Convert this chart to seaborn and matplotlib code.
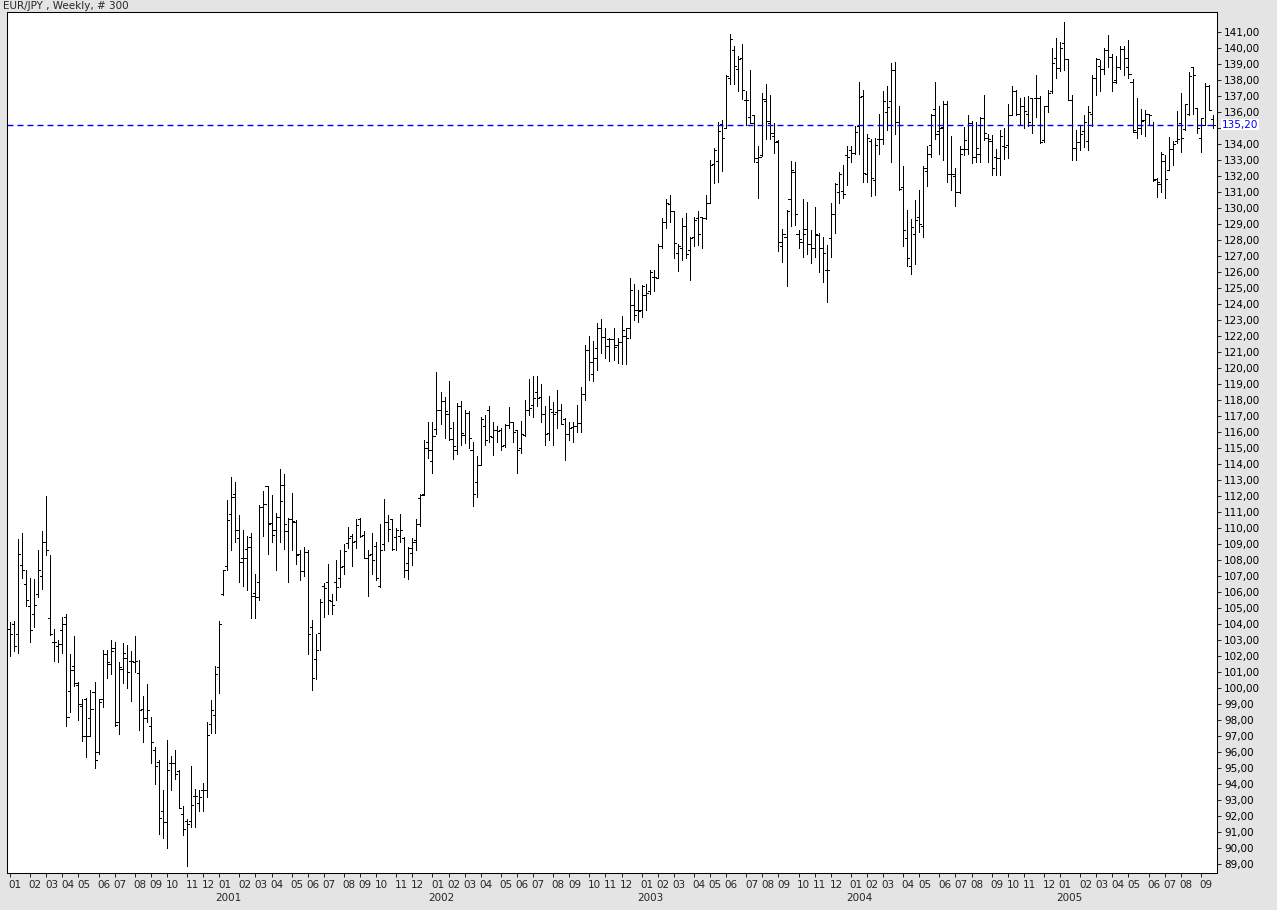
import numpy as np
import pandas as pd
import matplotlib
matplotlib.use("Agg")
import matplotlib.pyplot as plt
import matplotlib.transforms as mtransforms
import seaborn as sns

# === Weekly EUR/JPY OHLC, 300 bars from Jan 2000 ===
opens = [
    103.7, 104.0, 103.4, 107.7, 106.5, 105.1, 104.6, 105.9, 107.0, 109.1,
    104.4, 102.9, 102.6, 103.6, 104.45, 99.8, 101.4, 100.2, 98.9, 99.3,
    98.1, 99.75, 96.0, 99.3, 102.1, 101.5, 102.5, 97.85, 101.2, 101.9,
    101.7, 101.6, 100.95, 98.7, 98.1, 97.6, 96.1, 95.35, 92.3, 91.6,
    95.3, 95.3, 94.8, 92.1, 91.7, 91.7, 93.25, 92.8, 93.6, 93.6,
    97.75, 98.3, 101.3, 105.9, 107.6, 110.9, 112.1, 109.35, 108.15, 108.7,
    109.45, 105.95, 106.65, 111.3, 112.6, 110.3, 109.9, 110.7, 112.7, 109.8,
    110.55, 110.4, 108.4, 107.3, 108.5, 103.8, 101.8, 103.45, 106.4, 106.65,
    105.45, 106.6, 106.9, 107.6, 109.05, 109.5, 109.2, 110.55, 109.55, 108.1,
    108.4, 108.9, 106.4, 109.0, 110.35, 110.55, 109.45, 109.5, 109.35, 107.8,
    108.45, 109.25, 111.9, 112.1, 115.35, 114.2, 116.2, 117.35, 117.95, 117.15,
    115.55, 114.9, 117.6, 115.8, 117.2, 114.9, 112.85, 113.95, 116.4, 117.4,
    115.7, 116.1, 116.1, 115.2, 116.45, 116.6, 116.1, 115.0, 115.8, 117.4,
    117.7, 118.5, 118.2, 117.1, 115.95, 117.25, 117.25, 117.35, 116.8, 115.9,
    116.3, 116.4, 116.55, 118.4, 121.1, 119.65, 121.25, 122.5, 121.95, 121.8,
    121.8, 121.45, 121.65, 122.0, 122.5, 123.95, 123.6, 123.6, 124.55, 124.8,
    125.7, 125.65, 127.6, 129.1, 130.25, 129.8, 127.2, 127.5, 128.9, 127.4,
    128.2, 129.35, 129.45, 129.4, 130.3, 132.75, 132.95, 135.25, 135.0, 138.15,
    139.9, 138.7, 139.4, 136.75, 135.7, 135.8, 132.9, 133.3, 136.7, 135.3,
    134.5, 134.2, 127.6, 128.2, 130.55, 132.25, 128.4, 127.9, 128.7, 127.75,
    127.5, 128.3, 127.5, 126.1, 128.1, 129.6, 131.0, 131.05, 133.3, 133.6,
    133.45, 135.1, 137.0, 132.1, 134.2, 131.75, 134.3, 134.3, 136.0, 136.7,
    138.6, 135.4, 131.3, 128.1, 126.35, 128.4, 129.45, 128.9, 132.3, 133.95,
    136.2, 134.8, 135.05, 136.5, 132.1, 132.0, 131.0, 133.7, 133.7, 135.3,
    133.2, 133.4, 135.6, 134.4, 134.2, 133.2, 133.1, 133.9, 133.95, 135.8,
    137.3, 135.9, 136.4, 135.85, 136.85, 136.9, 136.9, 134.25, 136.4, 137.3,
    139.4, 138.75, 140.3, 139.3, 136.75, 133.75, 134.15, 134.8, 134.2, 135.9,
    138.15, 138.9, 138.7, 139.9, 139.45, 138.0, 138.8, 139.95, 138.8, 137.9,
    134.75, 135.0, 135.5, 135.85, 135.2, 131.8, 131.5, 132.95, 132.4, 133.7,
    134.2, 135.3, 134.95, 135.9, 138.8, 136.25, 134.4, 135.2, 137.6, 135.55,
]
highs = [
    104.1, 104.2, 109.3, 109.7, 107.4, 106.85, 106.8, 108.6, 109.8, 112.0,
    108.3, 103.7, 103.0, 104.45, 104.6, 102.1, 103.25, 100.4, 99.3, 99.35,
    99.9, 100.4, 99.3, 102.4, 102.4, 103.0, 102.85, 101.6, 102.8, 102.7,
    102.3, 103.25, 101.75, 99.5, 100.25, 98.2, 96.3, 95.5, 93.6, 96.75,
    95.75, 96.1, 94.9, 92.6, 91.8, 95.1, 93.7, 93.6, 94.05, 97.9,
    99.25, 101.4, 104.2, 107.4, 111.75, 113.2, 112.9, 110.8, 109.9, 109.5,
    109.7, 107.1, 111.45, 112.3, 112.6, 112.05, 110.95, 113.7, 113.4, 110.6,
    112.2, 110.5, 108.6, 108.8, 108.6, 104.25, 103.4, 105.55, 106.55, 107.75,
    105.9, 108.0, 108.6, 109.0, 110.05, 109.65, 110.55, 110.6, 109.8, 108.65,
    109.7, 109.1, 110.25, 111.8, 110.8, 110.55, 110.0, 110.9, 109.45, 108.8,
    109.4, 110.55, 112.1, 115.5, 116.65, 116.6, 119.75, 118.5, 118.2, 119.2,
    116.65, 117.8, 117.95, 117.4, 117.3, 115.4, 114.5, 116.95, 117.05, 117.6,
    116.6, 116.35, 116.25, 116.5, 117.55, 116.65, 116.1, 116.7, 118.0, 119.3,
    119.5, 119.5, 119.0, 117.6, 118.25, 117.85, 118.6, 117.75, 116.85, 116.6,
    116.65, 117.7, 118.8, 121.45, 122.0, 121.7, 122.8, 123.05, 122.5, 121.85,
    122.5, 121.9, 123.25, 122.5, 125.65, 125.25, 124.9, 125.2, 125.25, 126.15,
    126.1, 127.75, 129.4, 130.55, 130.8, 129.8, 127.75, 129.4, 129.7, 128.2,
    129.45, 129.8, 129.45, 130.8, 133.0, 133.75, 135.35, 135.5, 138.3, 140.9,
    140.1, 139.5, 140.25, 137.3, 138.6, 135.8, 133.85, 137.2, 137.75, 137.05,
    135.3, 134.25, 128.7, 129.85, 132.95, 132.9, 128.65, 130.55, 130.35, 128.6,
    130.05, 128.45, 128.2, 127.7, 130.3, 131.55, 132.25, 132.7, 133.9, 133.9,
    135.1, 137.85, 137.35, 134.6, 134.3, 134.35, 135.875, 137.3, 137.6, 139.05,
    139.1, 136.4, 132.6, 129.9, 129.3, 130.5, 131.1, 132.6, 133.9, 135.9,
    137.85, 136.4, 136.7, 136.7, 134.5, 132.5, 133.875, 135.05, 135.8, 135.45,
    135.4, 135.7, 137.06, 134.6, 134.56, 133.7, 134.9, 134.98, 136.5, 137.6,
    137.4, 136.85, 136.95, 137.0, 136.9, 138.3, 137.0, 136.4, 137.4, 140.0,
    140.6, 140.35, 141.65, 139.3, 137.06, 134.9, 135.2, 135.8, 136.4, 138.3,
    139.4, 139.25, 140.0, 140.8, 139.6, 139.5, 140.1, 140.1, 140.5, 138.05,
    136.85, 136.2, 136.1, 135.9, 135.4, 131.85, 133.5, 133.3, 134.45, 134.2,
    136.06, 137.2, 136.5, 138.5, 138.8, 136.25, 135.65, 137.8, 137.7, 135.8,
]
lows = [
    102.0, 102.3, 102.2, 106.9, 105.1, 102.9, 103.8, 105.7, 106.2, 108.3,
    103.3, 101.7, 101.6, 102.2, 97.6, 98.5, 100.1, 98.0, 96.7, 95.7,
    97.0, 95.0, 95.9, 98.8, 100.6, 100.9, 97.6, 97.1, 100.3, 100.0,
    99.2, 101.0, 97.4, 96.65, 97.9, 95.3, 94.0, 90.9, 90.65, 90.0,
    93.6, 94.3, 92.5, 90.8, 88.9, 91.3, 91.3, 92.3, 92.3, 93.2,
    97.2, 97.2, 99.7, 105.8, 107.4, 108.6, 109.1, 106.65, 106.4, 106.1,
    104.35, 104.4, 105.5, 109.5, 108.35, 109.15, 107.4, 109.15, 108.7, 106.6,
    108.65, 107.75, 106.75, 107.0, 102.1, 99.9, 100.55, 102.4, 104.45, 104.65,
    104.65, 105.5, 106.3, 107.15, 108.75, 107.6, 108.75, 109.45, 108.1, 105.75,
    107.1, 106.75, 106.3, 108.65, 109.2, 108.6, 108.6, 109.1, 106.95, 106.8,
    107.7, 108.6, 110.1, 112.05, 114.35, 113.45, 115.9, 116.5, 115.6, 115.5,
    114.3, 114.65, 115.2, 115.3, 115.0, 111.35, 111.95, 113.95, 115.2, 115.4,
    114.55, 115.4, 114.85, 115.05, 116.25, 115.35, 113.45, 114.7, 115.75, 117.05,
    116.95, 117.6, 116.65, 115.2, 115.5, 115.2, 116.25, 116.5, 114.25, 115.5,
    115.35, 116.0, 116.0, 118.0, 119.25, 119.2, 119.9, 120.95, 120.65, 120.45,
    120.5, 120.3, 120.25, 120.25, 121.85, 123.0, 122.9, 123.2, 123.65, 124.6,
    124.8, 125.6, 127.5, 128.75, 129.15, 126.9, 126.05, 126.75, 126.9, 125.5,
    127.6, 127.7, 127.5, 129.3, 130.3, 131.55, 131.65, 132.3, 135.0, 137.75,
    137.75, 137.3, 136.8, 135.2, 135.3, 132.85, 130.6, 133.25, 134.3, 134.3,
    133.45, 127.3, 126.65, 125.1, 128.9, 128.95, 127.5, 126.95, 127.15, 126.55,
    126.95, 126.0, 125.35, 124.15, 126.95, 128.45, 130.3, 130.65, 131.45, 132.9,
    133.4, 133.4, 131.65, 131.6, 130.75, 130.8, 133.4, 134.0, 134.9, 132.85,
    134.6, 131.1, 127.6, 126.35, 125.9, 126.5, 128.5, 128.2, 131.4, 133.2,
    134.3, 133.4, 133.0, 131.6, 131.1, 130.1, 130.95, 133.3, 133.4, 132.8,
    132.85, 132.85, 134.25, 132.9, 132.06, 132.06, 132.06, 133.06, 133.1, 135.8,
    135.8, 135.2, 134.97, 135.1, 134.7, 135.7, 134.05, 134.1, 136.0, 137.2,
    138.1, 138.55, 138.6, 136.75, 133.0, 133.0, 133.6, 133.8, 133.6, 135.1,
    137.06, 137.3, 138.4, 138.8, 137.3, 137.8, 138.7, 138.3, 138.1, 134.75,
    134.4, 134.6, 134.5, 135.2, 131.7, 130.7, 131.0, 130.65, 132.4, 132.7,
    134.05, 133.5, 134.9, 135.8, 135.9, 134.7, 133.5, 135.2, 136.1, 135.0,
]
closes = [
    103.4, 102.6, 108.4, 107.4, 105.5, 103.6, 105.2, 107.4, 109.1, 108.6,
    103.4, 102.85, 102.75, 104.0, 98.2, 101.1, 100.3, 99.0, 97.0, 97.0,
    98.7, 95.5, 99.1, 102.1, 101.65, 102.3, 97.7, 101.3, 102.2, 101.0,
    101.7, 101.7, 98.6, 98.1, 98.6, 96.6, 95.1, 91.9, 91.6, 94.9,
    95.3, 94.6, 92.5, 91.2, 91.5, 92.7, 93.25, 93.2, 93.6, 97.05,
    98.6, 100.9, 104.0, 107.4, 110.5, 111.95, 109.9, 107.9, 108.1, 108.8,
    105.75, 105.7, 111.3, 111.5, 110.25, 109.55, 110.7, 111.7, 110.25, 110.55,
    110.45, 108.3, 107.3, 108.5, 103.4, 100.65, 102.4, 105.35, 106.25, 105.5,
    105.2, 106.3, 107.55, 108.55, 109.35, 109.1, 110.2, 109.5, 108.1, 108.3,
    108.0, 106.85, 108.65, 110.35, 109.95, 108.7, 109.85, 109.9, 107.4, 108.75,
    109.1, 110.25, 112.05, 115.0, 114.9, 115.75, 117.35, 117.95, 117.3, 116.25,
    115.1, 117.6, 115.95, 117.2, 115.6, 112.15, 113.95, 116.8, 115.5, 115.75,
    116.1, 116.05, 115.1, 116.45, 116.6, 116.0, 114.9, 115.85, 117.4, 117.5,
    118.1, 118.15, 117.1, 115.85, 117.45, 117.1, 117.35, 116.5, 115.9, 116.25,
    116.35, 116.55, 118.4, 121.15, 120.4, 120.65, 122.5, 121.95, 121.35, 121.8,
    121.3, 121.6, 122.4, 121.85, 124.85, 123.3, 123.55, 125.1, 124.7, 126.0,
    125.7, 127.6, 129.15, 130.3, 129.8, 127.8, 127.65, 128.85, 127.1, 128.15,
    129.25, 128.4, 129.4, 130.3, 132.7, 133.6, 134.8, 134.4, 138.25, 140.55,
    138.85, 139.3, 137.4, 136.75, 135.3, 133.15, 133.2, 136.8, 135.45, 134.7,
    134.15, 127.85, 128.4, 129.8, 132.4, 129.65, 128.05, 128.4, 127.75, 127.5,
    128.4, 127.5, 127.2, 126.1, 129.6, 131.5, 132.15, 130.85, 133.2, 133.45,
    134.75, 136.95, 132.2, 134.35, 131.85, 133.95, 134.3, 136.7, 136.3, 138.6,
    135.35, 131.2, 128.6, 126.85, 128.8, 129.25, 129.0, 132.5, 133.4, 135.8,
    134.6, 135.0, 136.5, 132.15, 132.1, 131.0, 133.4, 134.25, 135.3, 133.2,
    133.75, 135.65, 134.7, 134.3, 132.5, 133.15, 134.5, 133.8, 135.8, 137.3,
    135.9, 136.4, 136.05, 135.4, 135.2, 136.85, 134.15, 136.4, 137.2, 139.05,
    138.75, 140.0, 139.3, 136.75, 133.75, 134.1, 134.6, 135.4, 136.0, 138.15,
    139.3, 138.7, 139.9, 139.45, 137.85, 138.8, 139.95, 139.35, 138.4, 134.85,
    135.2, 135.45, 135.9, 135.8, 131.75, 131.65, 133.4, 131.8, 133.7, 134.0,
    134.3, 134.4, 136.5, 138.25, 138.3, 135.0, 135.6, 137.65, 136.1, 135.2,
]
last_price = 135.20
first_week = "2000-01-03"
price_ticks = list(range(89, 142))
title = "EUR/JPY , Weekly, # 300"

# === Build the frame ===
df = pd.DataFrame({"open": opens, "high": highs, "low": lows, "close": closes})
df["week"] = pd.date_range(first_week, periods=len(df), freq="W-MON")
df["i"] = np.arange(len(df))

# month starts for the bottom axis
new_month = df["week"].dt.month.ne(df["week"].dt.month.shift())
months = df[new_month]

# === Plot ===
sns.set_theme(style="white")
plt.rcParams["font.family"] = ["DejaVu Sans"]
plt.rcParams["lines.scale_dashes"] = False

bg = "#e4e4e4"
fig = plt.figure(figsize=(12.77, 9.10), dpi=100, facecolor=bg)
ax = fig.add_axes([7 / 1277, 1 - 873 / 910, 1210 / 1277, 861 / 910])
ax.set_facecolor("white")

lw = 0.6
ax.vlines(df["i"], df["low"], df["high"], color="black", lw=lw, antialiased=False)
ax.hlines(df["open"], df["i"] - 0.55, df["i"], color="black", lw=lw, antialiased=False)
ax.hlines(df["close"], df["i"], df["i"] + 0.55, color="black", lw=lw, antialiased=False)

# last price line
ax.axhline(last_price, color="#0000ff", lw=1.0, ls=(0, (4.3, 2.9)), zorder=5)

ax.set_xlim(-0.75, len(df) + 0.0)
ax.set_ylim(88.44, 142.25)

# right price axis
ax.yaxis.tick_right()
ax.set_yticks(price_ticks)
ax.set_yticklabels(["" if v == 135 else f"{v:.2f}".replace(".", ",") for v in price_ticks])
ax.tick_params(axis="y", which="both", right=True, length=3, width=0.6,
               color="black", labelsize=7.5, pad=2, labelcolor="black")
blend_y = mtransforms.blended_transform_factory(ax.transAxes, ax.transData)
ax.text(1.0 + 5 / 1210, last_price, f"{last_price:.2f}".replace(".", ","),
        color="#0000ff", fontsize=7.5, va="center", ha="left", transform=blend_y,
        bbox=dict(boxstyle="square,pad=0.05", fc="white", ec="none"))

# bottom month / year labels
ax.set_xticks(months["i"])
ax.set_xticklabels([])
ax.tick_params(axis="x", bottom=True, length=3, width=0.6, color="black")
trans = mtransforms.blended_transform_factory(ax.transData, ax.transAxes)
for _, r in months.iterrows():
    ax.text(r["i"] + 1.3, -12 / 861, f"{r['week'].month:02d}", fontsize=7.5,
            ha="center", va="center", transform=trans)
    if r["week"].month == 1 and r["i"] > 0:
        ax.text(r["i"] + 2.2, -25 / 861, str(r["week"].year), fontsize=7.5,
                ha="center", va="center", transform=trans)

for s in ax.spines.values():
    s.set_visible(True)
    s.set_color("black")
    s.set_linewidth(0.75)

ax.set_xlabel("")
ax.set_ylabel("")
fig.text(3 / 1277, 1 - 6 / 910, title, fontsize=7.5, ha="left", va="center")

fig.savefig("out.png", dpi=100, facecolor=bg)
